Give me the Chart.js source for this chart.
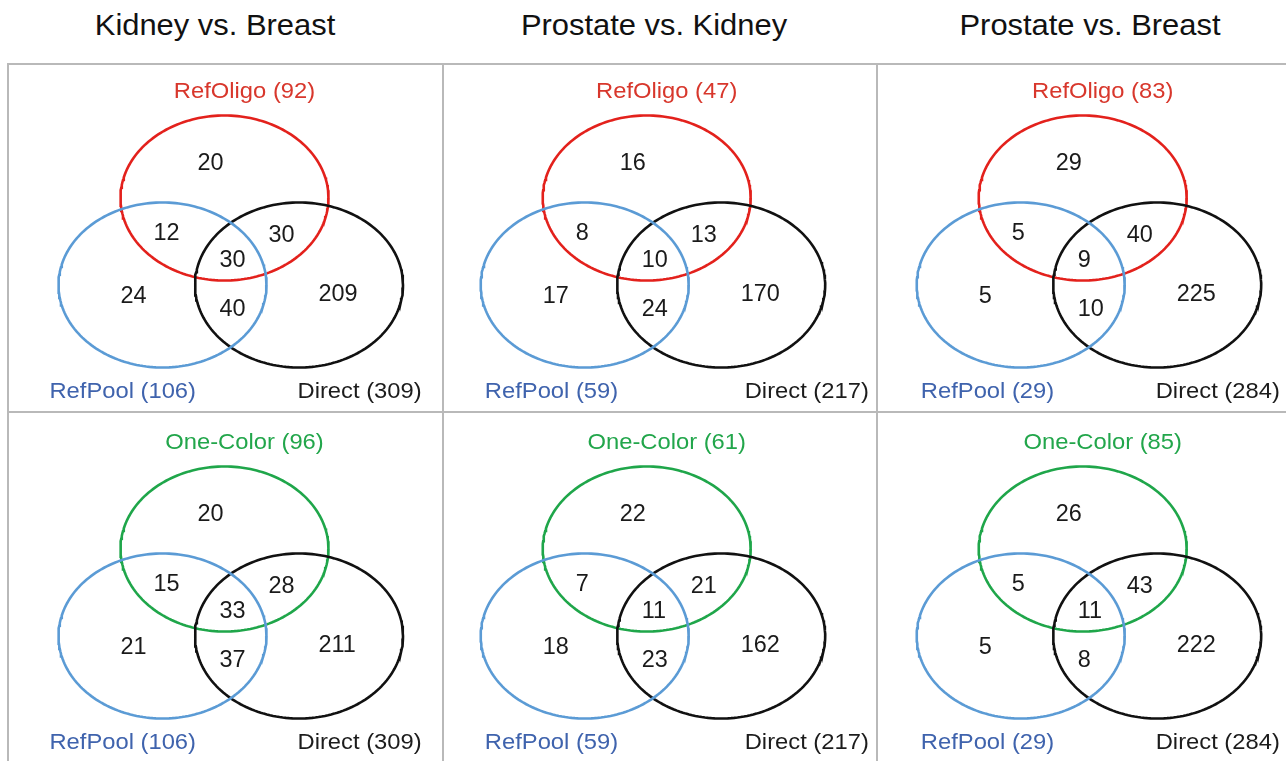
<!DOCTYPE html>
<html>
<head>
<meta charset="utf-8">
<title>Venn comparisons</title>
<script src="https://cdn.jsdelivr.net/npm/chart.js@4.4.1/dist/chart.umd.min.js"></script>
<style>
  html, body { margin: 0; padding: 0; background: #fff; }
  body { width: 1286px; height: 761px; position: relative; overflow: hidden; font-family: "Liberation Sans", Arial, sans-serif; }
  .title { position: absolute; top: 8px; font-size: 30px; color: #111; white-space: nowrap; transform: translateX(-50%) scaleX(1.03); }
  .panel { position: absolute; }
  .line { position: absolute; background: #b9b9b9; }
</style>
</head>
<body>
<script>
  // ----- data -----
  const comparisons = ['Kidney vs. Breast', 'Prostate vs. Kidney', 'Prostate vs. Breast'];
  const topMethods = ['RefOligo', 'One-Color'];
  const refOligoTotals = [92, 47, 83];
  const oneColorTotals = [96, 61, 85];
  const refPoolTotals = [106, 59, 29];
  const directTotals = [309, 217, 284];
  // region order: top only, top+pool, top+direct, all three, pool only, pool+direct, direct only
  const refOligoCounts = [
    [20, 12, 30, 30, 24, 40, 209],
    [16, 8, 13, 10, 17, 24, 170],
    [29, 5, 40, 9, 5, 10, 225]
  ];
  const oneColorCounts = [
    [20, 15, 28, 33, 21, 37, 211],
    [22, 7, 21, 11, 18, 23, 162],
    [26, 5, 43, 11, 5, 8, 222]
  ];

  // ----- layout -----
  const colX = [8, 443, 877, 1286];
  const rowY = [64, 412, 761];
  const centerX = [216.5, 203.7, 205.7];   // top ellipse centre inside each column
  const centerY = [134, 137];
  const titleX = [215, 654, 1090];
  const RX = 104, RY = 82.5;
  const shapes = { top: [0, 0], pool: [-62, 87], direct: [74.5, 87] };
  const anchors = [[-27, -36], [-71, 33.5], [44, 35.5], [-5, 61], [-104, 96.5], [-5, 110], [94, 95]];
  const directDx = [73, 98, 73];
  const FONT = '"Liberation Sans", Arial, sans-serif';
  const colors = { RefOligo: '#e3211c', 'One-Color': '#1fa64a', pool: '#5b9bd5', direct: '#111111' };
  const labelColors = { RefOligo: '#d8372c', 'One-Color': '#22a64b', pool: '#3f63ad', direct: '#1c1c1c' };

  function ellipse(c) {
    const pts = [];
    for (let i = 0; i <= 200; i++) {
      const t = i / 200 * Math.PI * 2;
      pts.push({ x: c[0] + RX * Math.cos(t), y: c[1] + RY * Math.sin(t) });
    }
    return pts;
  }

  // frame lines
  function addLine(x, y, w, h) {
    const d = document.createElement('div');
    d.className = 'line';
    Object.assign(d.style, { left: x + 'px', top: y + 'px', width: w + 'px', height: h + 'px' });
    document.body.appendChild(d);
  }

  comparisons.forEach((name, c) => {
    const t = document.createElement('div');
    t.className = 'title';
    t.style.left = titleX[c] + 'px';
    t.textContent = name;
    document.body.appendChild(t);
  });

  // text drawn slightly wider, like the source figure
  function stretchText(ctx, text, x, y, align, sx) {
    ctx.save();
    ctx.translate(x, y);
    ctx.scale(sx, 1);
    ctx.textAlign = align;
    ctx.fillText(text, 0, 0);
    ctx.restore();
  }

  function vennPlugin(counts, topLabel, topColor, poolLabel, directLabel, col) {
    return {
      id: 'venn',
      afterDatasetsDraw(chart) {
        const ctx = chart.ctx, xs = chart.scales.x, ys = chart.scales.y;
        const px = v => xs.getPixelForValue(v), py = v => ys.getPixelForValue(v);
        ctx.save();
        // region counts, left aligned on their anchor, centred on cap height
        ctx.font = '23px ' + FONT;
        ctx.fillStyle = '#1a1a1a';
        ctx.textBaseline = 'alphabetic';
        counts.forEach((v, i) => {
          stretchText(ctx, String(v), px(anchors[i][0]), py(anchors[i][1]) + 8.2, 'left', 1.02);
        });
        // set labels
        ctx.font = '22px ' + FONT;
        ctx.fillStyle = topColor;
        stretchText(ctx, topLabel, px(20), py(-100.5), 'center', 1.08);
        ctx.fillStyle = labelColors.pool;
        stretchText(ctx, poolLabel, px(-28.5), py(199.5), 'right', 1.08);
        ctx.fillStyle = labelColors.direct;
        stretchText(ctx, directLabel, px(directDx[col]), py(199.5), 'left', 1.08);
        ctx.restore();
      }
    };
  }

  topMethods.forEach((method, r) => {
    const totals = r === 0 ? refOligoTotals : oneColorTotals;
    const countRows = r === 0 ? refOligoCounts : oneColorCounts;
    comparisons.forEach((name, c) => {
      const w = colX[c + 1] - colX[c], h = rowY[r + 1] - rowY[r];
      const wrap = document.createElement('div');
      wrap.className = 'panel';
      Object.assign(wrap.style, { left: colX[c] + 'px', top: rowY[r] + 'px', width: w + 'px', height: h + 'px' });
      const canvas = document.createElement('canvas');
      canvas.width = w; canvas.height = h;
      wrap.appendChild(canvas);
      document.body.appendChild(wrap);

      const cx = centerX[c], cy = centerY[r];
      const ring = (key, color) => ({
        data: ellipse(shapes[key]),
        showLine: true,
        borderColor: color,
        borderWidth: 2.6,
        pointRadius: 0,
        fill: false,
        tension: 0
      });

      new Chart(canvas.getContext('2d'), {
        type: 'scatter',
        data: {
          datasets: [
            ring('pool', colors.pool),
            ring('direct', colors.direct),
            ring('top', colors[method])
          ]
        },
        options: {
          responsive: false,
          animation: false,
          layout: { padding: 0 },
          plugins: { legend: { display: false }, tooltip: { enabled: false } },
          scales: {
            x: { type: 'linear', display: false, min: -cx, max: w - cx },
            y: { type: 'linear', display: false, reverse: true, min: -cy, max: h - cy }
          }
        },
        plugins: [vennPlugin(
          countRows[c],
          method + ' (' + totals[c] + ')', labelColors[method],
          'RefPool (' + refPoolTotals[c] + ')',
          'Direct (' + directTotals[c] + ')', c
        )]
      });
    });
  });

  // grid lines drawn on top of the panels
  addLine(8, 63, 1278, 2);
  addLine(8, 411, 1278, 2);
  addLine(7, 63, 2, 698);
  addLine(442, 63, 2, 698);
  addLine(876, 63, 2, 698);
</script>
</body>
</html>
